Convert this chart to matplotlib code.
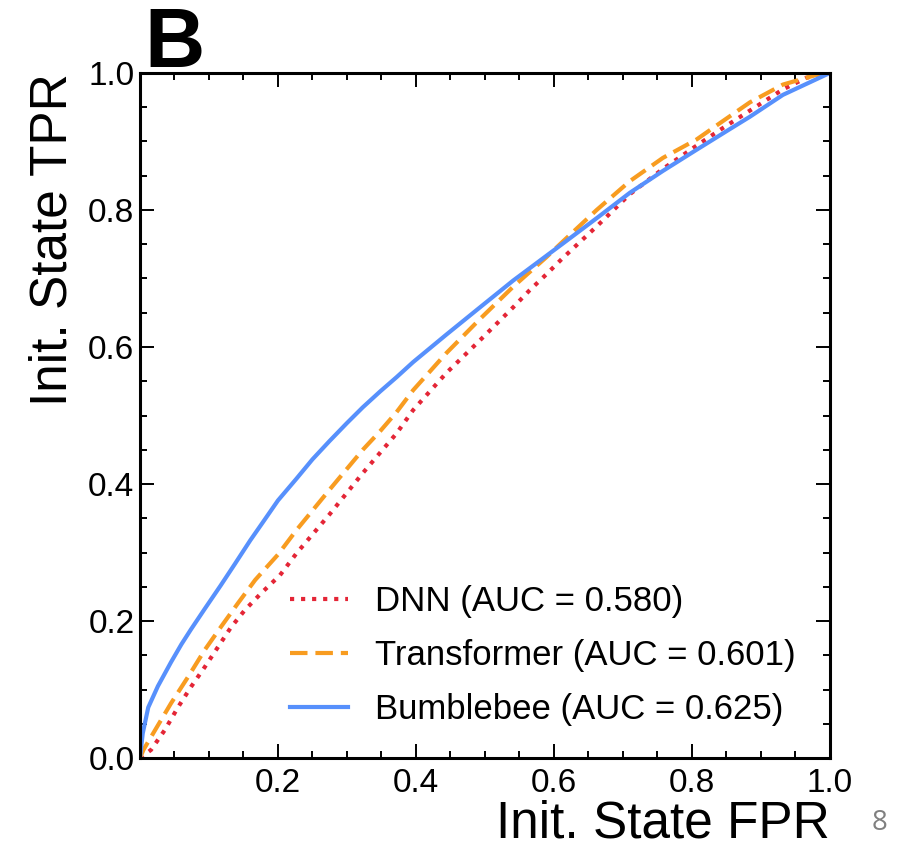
import matplotlib.pyplot as plt
import numpy as np

plt.rcParams['font.family'] = ['Liberation Sans', 'DejaVu Sans']

# ROC points
dnn_fpr = [0, 0.016, 0.036, 0.055, 0.074, 0.094, 0.113, 0.132, 0.152, 0.176, 0.203,
           0.227, 0.275, 0.323, 0.372, 0.396, 0.444, 0.493, 0.541, 0.565, 0.589, 0.613,
           0.662, 0.71, 0.758, 0.807, 0.841, 0.884, 0.932, 0.966, 1.0]
dnn_tpr = [0, 0.012, 0.041, 0.074, 0.104, 0.133, 0.162, 0.191, 0.216, 0.241, 0.267,
           0.299, 0.356, 0.416, 0.474, 0.508, 0.562, 0.610, 0.658, 0.683, 0.706, 0.730,
           0.776, 0.823, 0.860, 0.894, 0.917, 0.945, 0.976, 0.993, 1.0]

trf_fpr = [0, 0.005, 0.022, 0.045, 0.07, 0.094, 0.117, 0.142, 0.167, 0.2, 0.227,
           0.275, 0.323, 0.348, 0.372, 0.396, 0.444, 0.493, 0.541, 0.589, 0.613, 0.662,
           0.71, 0.758, 0.807, 0.841, 0.884, 0.932, 0.98, 1.0]
trf_tpr = [0, 0.012, 0.041, 0.080, 0.119, 0.158, 0.191, 0.226, 0.260, 0.297, 0.333,
           0.392, 0.45, 0.477, 0.505, 0.537, 0.591, 0.641, 0.688, 0.731, 0.754, 0.80,
           0.842, 0.876, 0.903, 0.927, 0.957, 0.983, 0.997, 1.0]

bb_fpr = [0, 0.004, 0.012, 0.026, 0.045, 0.06, 0.074, 0.094, 0.117, 0.138, 0.16,
          0.178, 0.2, 0.227, 0.25, 0.275, 0.3, 0.323, 0.348, 0.372, 0.396, 0.444, 0.493,
          0.541, 0.589, 0.613, 0.662, 0.71, 0.758, 0.807, 0.855, 0.884, 0.932, 1.0]
bb_tpr = [0, 0.036, 0.074, 0.105, 0.14, 0.166, 0.188, 0.218, 0.252, 0.284, 0.318,
          0.344, 0.376, 0.408, 0.436, 0.463, 0.489, 0.512, 0.535, 0.556, 0.578, 0.618,
          0.658, 0.697, 0.733, 0.751, 0.788, 0.825, 0.857, 0.888, 0.918, 0.936, 0.968, 1.0]

labels = ["DNN (AUC = 0.580)", "Transformer (AUC = 0.601)", "Bumblebee (AUC = 0.625)"]

fig = plt.figure(figsize=(9.03, 8.48), dpi=100)
ax = fig.add_axes([0.155, 0.106, 0.764, 0.808])

ax.plot(dnn_fpr, dnn_tpr, color="#e42536", lw=3, ls=":", label=labels[0])
ax.plot(trf_fpr, trf_tpr, color="#f89c20", lw=3, dashes=(4.2, 1.9), label=labels[1])
ax.plot(bb_fpr, bb_tpr, color="#5790fc", lw=3, label=labels[2])

ax.set_xlim(0, 1)
ax.set_ylim(0, 1)
ax.set_xticks([0.2, 0.4, 0.6, 0.8, 1.0])
ax.set_yticks([0.0, 0.2, 0.4, 0.6, 0.8, 1.0])
ax.set_xticks(np.arange(0, 1.001, 0.05), minor=True)
ax.set_yticks(np.arange(0, 1.001, 0.05), minor=True)
ax.tick_params(which="both", direction="in", top=True, right=True, labelsize=24)
ax.tick_params(which="major", length=10, width=1.4)
ax.tick_params(which="minor", length=5, width=1.4)
ax.tick_params(axis="x", pad=7)
ax.tick_params(axis="y", pad=4)
for sp in ax.spines.values():
    sp.set_linewidth(2.2)

ax.set_xlabel("Init. State FPR", fontsize=37, loc="right")
ax.xaxis.set_label_coords(1.0, -0.06)
ax.set_ylabel("Init. State TPR", fontsize=37, loc="top")
ax.yaxis.set_label_coords(-0.09, 1.0)

ax.legend(loc="lower right", bbox_to_anchor=(0.95, 0.047), frameon=False, fontsize=25,
          handlelength=1.65, handletextpad=0.78, labelspacing=0.6,
          borderpad=0, borderaxespad=0)

fig.text(144 / 903, 1 - 67 / 848, "B", fontsize=60, fontweight="bold", va="baseline")
fig.text(872 / 903, 1 - 830 / 848, "8", fontsize=20, color="#808080",
         family="Open Sans", va="baseline")

fig.savefig("out.png", dpi=100)
